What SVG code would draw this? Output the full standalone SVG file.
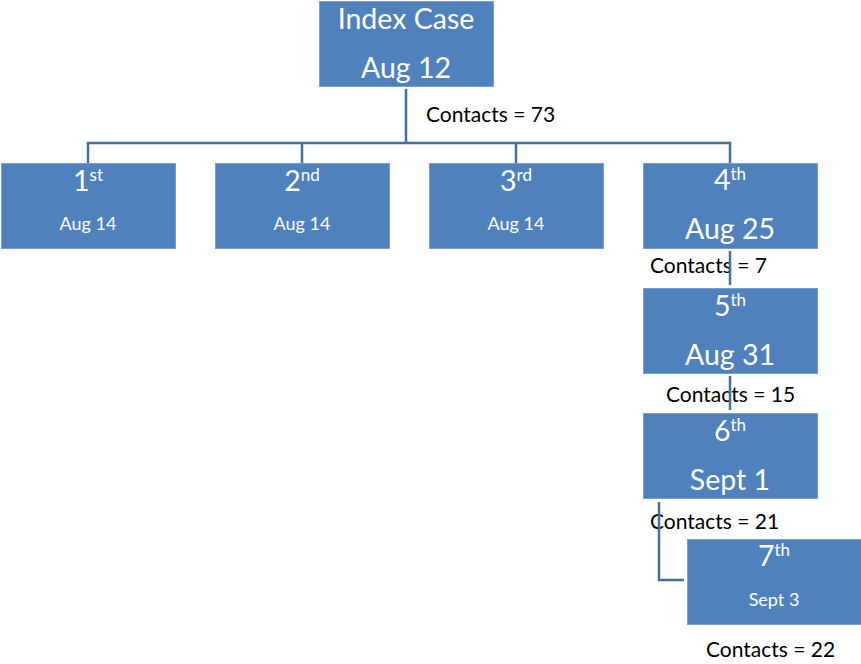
<svg xmlns="http://www.w3.org/2000/svg" width="861" height="664" viewBox="0 0 861 664">
<style>
.box{fill:#4F81BD;stroke:#7A9FCF;stroke-width:1}
.w{fill:#fff;font-family:Lato,"Open Sans","Liberation Sans",sans-serif;text-anchor:middle}
.big{font-size:28.5px}
.sm{font-size:18px}
.sup{font-size:17px}
.lbl{fill:#000;font-family:Lato,"Open Sans","Liberation Sans",sans-serif;font-size:21px}
.con{fill:none;stroke:#41719C;stroke-width:2.5}
</style>
<rect width="861" height="664" fill="#fff"/>
<g id="index">
<rect class="box" x="319.5" y="1.5" width="174" height="85"/>
<text class="w big" x="406" y="29">Index Case</text>
<text class="w big" x="406" y="78">Aug 12</text>
</g>
<g id="n1">
<rect class="box" x="1.5" y="163.5" width="174" height="85"/>
<text class="w" x="88" y="191"><tspan class="big">1</tspan><tspan class="sup" dy="-10">st</tspan></text>
<text class="w sm" x="88" y="230">Aug 14</text>
</g>
<g id="n2">
<rect class="box" x="215.5" y="163.5" width="174" height="85"/>
<text class="w" x="302" y="191"><tspan class="big">2</tspan><tspan class="sup" dy="-10">nd</tspan></text>
<text class="w sm" x="302" y="230">Aug 14</text>
</g>
<g id="n3">
<rect class="box" x="429.5" y="163.5" width="174" height="85"/>
<text class="w" x="516" y="191"><tspan class="big">3</tspan><tspan class="sup" dy="-10">rd</tspan></text>
<text class="w sm" x="516" y="230">Aug 14</text>
</g>
<g id="n4">
<rect class="box" x="643.5" y="163.5" width="174" height="85"/>
<text class="w" x="730" y="190"><tspan class="big">4</tspan><tspan class="sup" dy="-10">th</tspan></text>
<text class="w big" x="730" y="239">Aug 25</text>
</g>
<g id="n5">
<rect class="box" x="643.5" y="288.5" width="174" height="85"/>
<text class="w" x="730" y="316"><tspan class="big">5</tspan><tspan class="sup" dy="-10">th</tspan></text>
<text class="w big" x="730" y="365">Aug 31</text>
</g>
<g id="n6">
<rect class="box" x="643.5" y="413.5" width="174" height="85"/>
<text class="w" x="730" y="441"><tspan class="big">6</tspan><tspan class="sup" dy="-10">th</tspan></text>
<text class="w big" x="730" y="490">Sept 1</text>
</g>
<g id="n7">
<rect class="box" x="687.5" y="539.5" width="174" height="85"/>
<text class="w" x="774" y="566"><tspan class="big">7</tspan><tspan class="sup" dy="-10">th</tspan></text>
<text class="w sm" x="774" y="606">Sept 3</text>
</g>
<g id="labels">
<text class="lbl" x="426" y="122">Contacts = 73</text>
<text class="lbl" x="650" y="273">Contacts = 7</text>
<text class="lbl" x="666" y="402">Contacts = 15</text>
<text class="lbl" x="650" y="529">Contacts = 21</text>
<text class="lbl" x="706" y="657">Contacts = 22</text>
</g>
<g id="connectors">
<path class="con" d="M406 89V143M88 163V143H730V163M302 143V163M516 143V163"/>
<path class="con" d="M730 251V285"/>
<path class="con" d="M730 376V410"/>
<path class="con" d="M659 502V580H684"/>
</g>
</svg>
